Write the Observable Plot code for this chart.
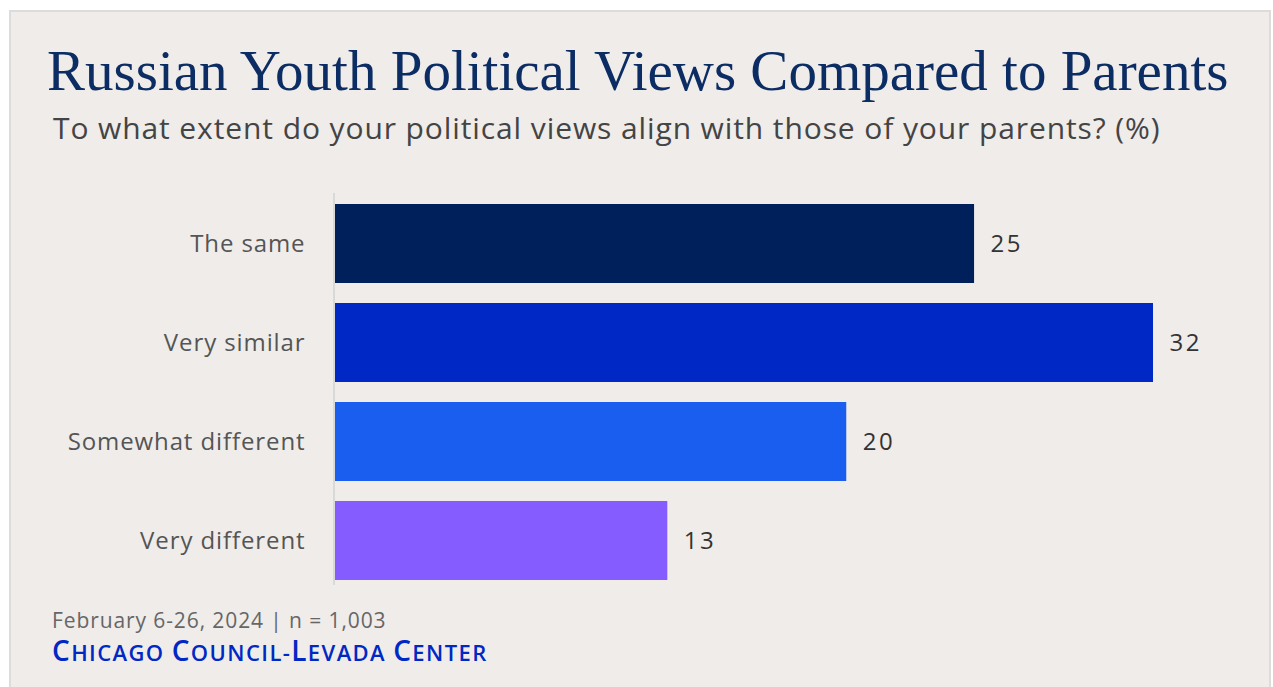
<!DOCTYPE html>
<html><head><meta charset="utf-8">
<script src="https://cdn.jsdelivr.net/npm/d3@7"></script>
<script src="https://cdn.jsdelivr.net/npm/@observablehq/plot@0.6"></script>
<style>
html,body{margin:0;padding:0;background:#fff;width:1273px;height:687px;overflow:hidden}
#card{position:absolute;left:9px;top:10px;width:1262px;height:690px;background:#efecea;border:2px solid #dcdcdc;box-sizing:border-box}
.t{position:absolute;white-space:nowrap;margin:0}
#title{left:47px;top:42px;font-family:"Liberation Serif",serif;font-size:57px;color:#0c2d63;line-height:1}
#sub{left:53px;top:113px;font-family:"Open Sans",sans-serif;font-size:30px;letter-spacing:0.9px;color:#444;line-height:1}
#note{left:52px;top:610px;font-family:"Open Sans",sans-serif;font-size:21px;letter-spacing:0.9px;color:#666;line-height:1}
#src{left:52px;top:636px;font-family:"Open Sans",sans-serif;font-size:22px;letter-spacing:1.4px;font-weight:600;color:#0028c4;line-height:1}
#src .b{font-size:28px}
#chart{position:absolute;left:0;top:185px}
</style></head>
<body>
<div id="card"></div>
<div class="t" id="title">Russian Youth Political Views Compared to Parents</div>
<div class="t" id="sub">To what extent do your political views align with those of your parents? (%)</div>
<div id="chart"></div>
<div class="t" id="note">February 6-26, 2024 | n = 1,003</div>
<div class="t" id="src"><span class="b">C</span>HICAGO <span class="b">C</span>OUNCIL-<span class="b">L</span>EVADA <span class="b">C</span>ENTER</div>
<script>
const categories = ["The same", "Very similar", "Somewhat different", "Very different"];
const values = [25, 32, 20, 13];
const colors = ["#00205b", "#0028c4", "#1a5ef0", "#855cff"];

const data = categories.map((c, i) => ({category: c, value: values[i]}));

const chart = Plot.plot({
  width: 1273,
  height: 406,
  marginLeft: 335,
  marginRight: 120,
  marginTop: 18,
  marginBottom: 10,
  style: {background: "transparent", fontFamily: "'Open Sans', sans-serif"},
  x: {domain: [0, 32], axis: null},
  y: {domain: categories, paddingInner: 0.2, paddingOuter: 0, label: null},
  color: {domain: categories, range: colors},
  marks: [
    Plot.barX(data, {x: "value", y: "category", fill: "category"}),
    Plot.ruleX([0], {stroke: "#d9d9d9", strokeWidth: 2, dx: -1.5, insetTop: -10, insetBottom: -4}),
    Plot.text(data, {x: "value", y: "category", text: d => String(d.value), textAnchor: "start", dx: 16, fontSize: 24, fill: "#333"}),
    Plot.axisY({tickSize: 0, tickPadding: 30, fontSize: 24, color: "#555", label: null})
  ]
});
chart.querySelectorAll("g[aria-label='y-axis tick label']").forEach(e => { e.setAttribute("fill", "#555"); e.setAttribute("letter-spacing", "0.9px"); });
chart.querySelectorAll("g[aria-label='text']").forEach(e => e.setAttribute("letter-spacing", "2.5px"));
document.getElementById("chart").appendChild(chart);
</script>
</body></html>
